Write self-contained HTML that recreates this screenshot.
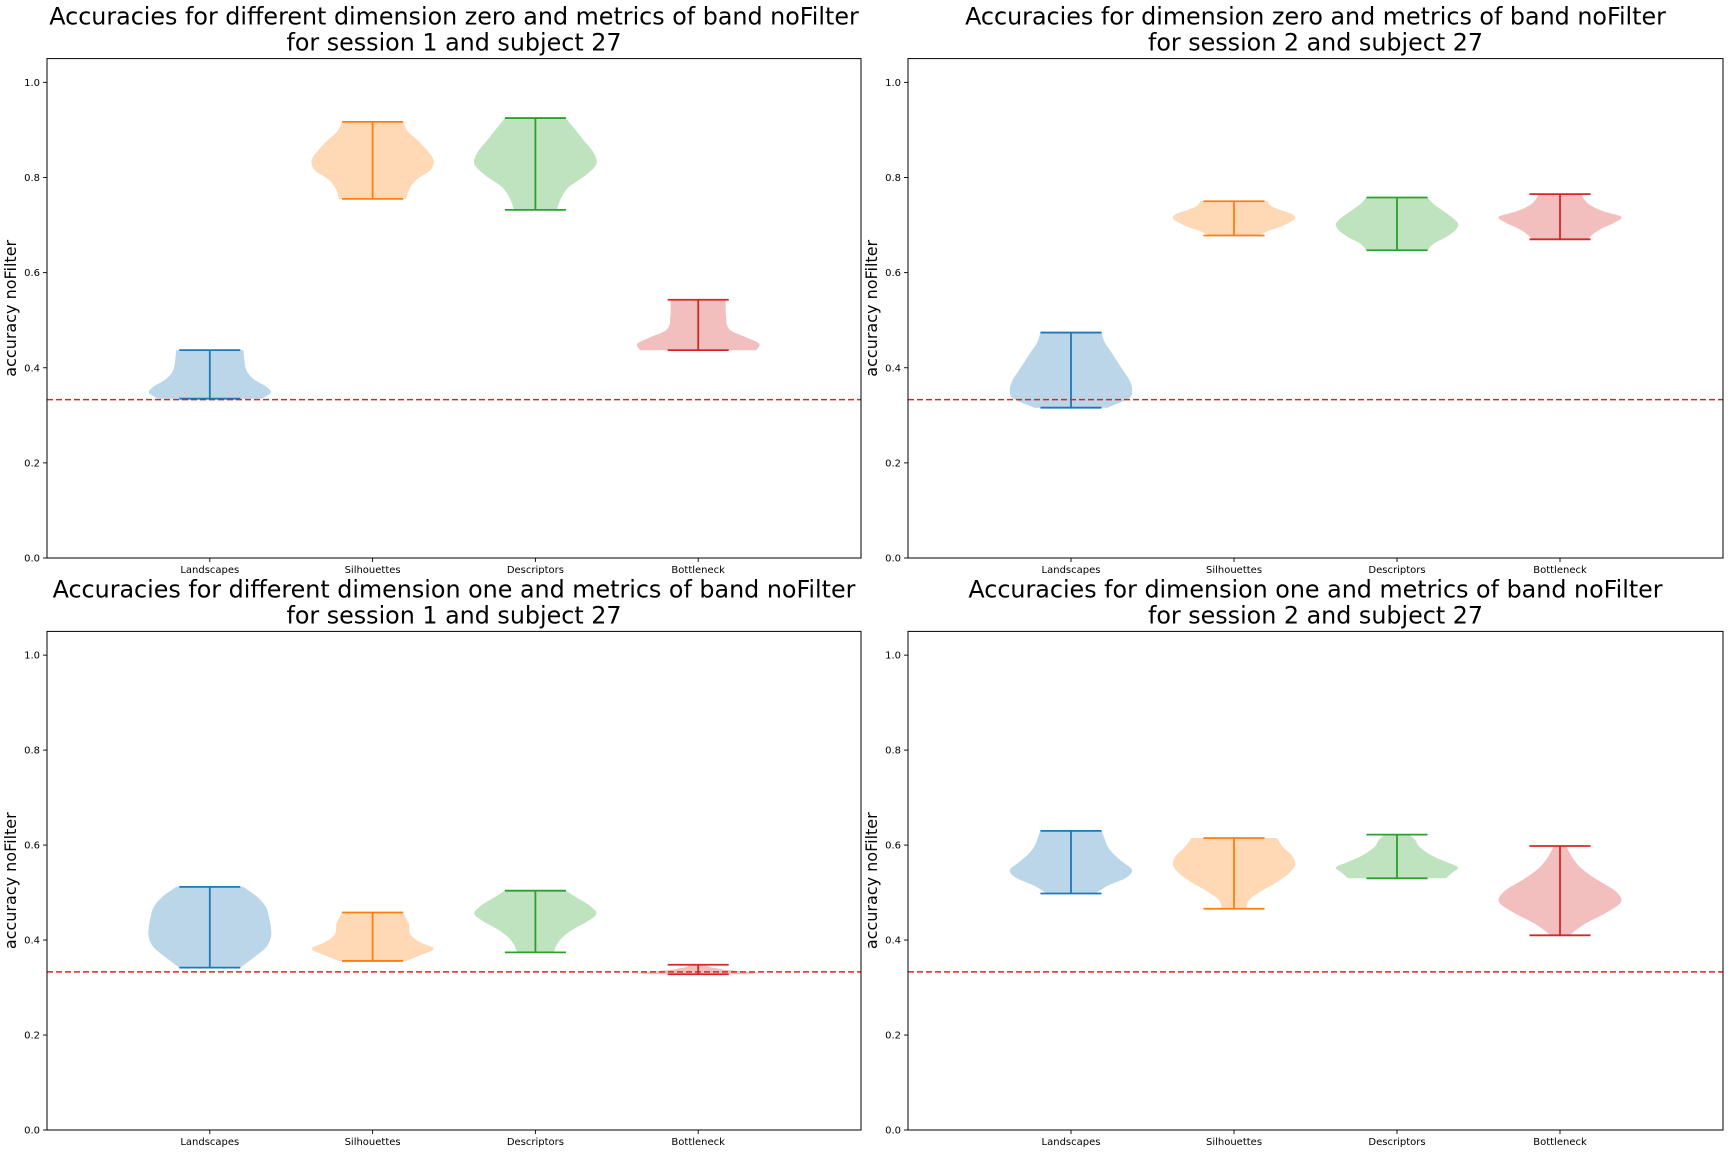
<!DOCTYPE html>
<html><head><meta charset="utf-8">
<style>
html,body{margin:0;padding:0;background:#fff;}
svg{display:block;font-family:"DejaVu Sans","Liberation Sans",sans-serif;}
</style></head>
<body>
<svg id="fig" width="1728" height="1152" viewBox="0 0 1728 1152" xmlns="http://www.w3.org/2000/svg"></svg>
<script>
// ---- data ----
const categories = ["Landscapes","Silhouettes","Descriptors","Bottleneck"];
const yTicks = [0.0,0.2,0.4,0.6,0.8,1.0];
const yTickLabels = ["0.0","0.2","0.4","0.6","0.8","1.0"];
const chanceLevel = 0.333;
const titles = [
  ["Accuracies for different dimension zero and metrics of band noFilter","for session 1 and subject 27"],
  ["Accuracies for dimension zero and metrics of band noFilter","for session 2 and subject 27"],
  ["Accuracies for different dimension one and metrics of band noFilter","for session 1 and subject 27"],
  ["Accuracies for dimension one and metrics of band noFilter","for session 2 and subject 27"]
];
// min / max per violin per panel
const minsP1 = [0.335,0.755,0.732,0.437];
const maxsP1 = [0.437,0.917,0.925,0.543];
const minsP2 = [0.316,0.678,0.647,0.670];
const maxsP2 = [0.474,0.750,0.758,0.765];
const minsP3 = [0.342,0.356,0.374,0.328];
const maxsP3 = [0.512,0.458,0.504,0.348];
const minsP4 = [0.498,0.466,0.530,0.410];
const maxsP4 = [0.630,0.615,0.622,0.598];
// density profiles (relative half-width, bottom to top, evenly spaced between min and max)
const densP1 = [
  [0.85,1.0,0.92,0.75,0.64,0.59,0.57,0.56,0.55],
  [0.55,0.6,0.72,0.95,1.0,0.9,0.75,0.58,0.5],
  [0.35,0.42,0.55,0.82,1.0,0.95,0.8,0.65,0.5],
  [0.95,1.0,0.8,0.55,0.47,0.46,0.45,0.45,0.45]
];
const densP2 = [
  [0.6,0.95,1.0,0.95,0.85,0.75,0.65,0.55,0.5],
  [0.4,0.55,0.75,0.9,1.0,0.95,0.75,0.6,0.55],
  [0.5,0.6,0.8,0.95,1.0,0.9,0.75,0.6,0.5],
  [0.45,0.55,0.7,0.9,1.0,0.7,0.5,0.4,0.35]
];
const densP3 = [
  [0.5,0.72,0.92,1.0,1.0,0.97,0.92,0.78,0.55],
  [0.55,0.8,1.0,0.8,0.65,0.6,0.6,0.55,0.5],
  [0.3,0.35,0.45,0.62,0.85,1.0,0.9,0.7,0.5],
  [0.8,1.0,0.8,0.6,0.4,0.3,0.2,0.15,0.1]
];
const densP4 = [
  [0.4,0.6,0.9,1.0,0.85,0.7,0.6,0.55,0.5],
  [0.2,0.25,0.45,0.7,0.9,1.0,0.95,0.8,0.7],
  [0.8,0.9,1.0,0.8,0.6,0.45,0.35,0.3,0.2],
  [0.15,0.4,0.75,1.0,0.9,0.6,0.35,0.2,0.1]
];
const panelMins = [minsP1,minsP2,minsP3,minsP4];
const panelMaxs = [maxsP1,maxsP2,maxsP3,maxsP4];
const panelDens = [densP1,densP2,densP3,densP4];

// ---- layout ----
const colors = ["#1f77b4","#ff7f0e","#2ca02c","#d62728"];
const panels = [
  {x0:47,x1:861,y0:58.6,y1:558},
  {x0:908,x1:1723,y0:58.6,y1:558},
  {x0:47,x1:861,y0:631.4,y1:1130},
  {x0:908,x1:1723,y0:631.4,y1:1130}
];
const NS="http://www.w3.org/2000/svg";
const svg=document.getElementById('fig');
function mk(tag,attrs,parent){const e=document.createElementNS(NS,tag);for(const k in attrs)e.setAttribute(k,attrs[k]);(parent||svg).appendChild(e);return e;}
function curve(P){
  let s='';
  for(let k=0;k<P.length-1;k++){
    const p0=P[Math.max(0,k-1)],p1=P[k],p2=P[k+1],p3=P[Math.min(P.length-1,k+2)];
    const c1=[p1[0]+(p2[0]-p0[0])/6,p1[1]+(p2[1]-p0[1])/6];
    const c2=[p2[0]-(p3[0]-p1[0])/6,p2[1]-(p3[1]-p1[1])/6];
    s+=` C${c1[0].toFixed(1)},${c1[1].toFixed(1)} ${c2[0].toFixed(1)},${c2[1].toFixed(1)} ${p2[0].toFixed(1)},${p2[1].toFixed(1)}`;
  }
  return s;
}

panels.forEach((p,pi)=>{
  const g=mk('g',{});
  
  
  const xs=v=>p.x0+(v/5)*(p.x1-p.x0);
  const ys=v=>p.y1-(v/1.05)*(p.y1-p.y0);
  const unit=(p.x1-p.x0)/5;
  const cx=(p.x0+p.x1)/2;
  titles[pi].forEach((line,li)=>{
    const t=mk('text',{x:cx,y:p.y0-34+li*26,'text-anchor':'middle','font-size':23.8,fill:'#000'},g);
    
    
    t.textContent=line;
  });
  const yl=mk('text',{x:0,y:0,'text-anchor':'middle','font-size':16,fill:'#000',transform:`translate(${p.x0-31},${(p.y0+p.y1)/2}) rotate(-90)`},g);
  
  
  yl.textContent='accuracy noFilter';
  yTicks.forEach((v,i)=>{
    const y=ys(v);
    mk('line',{x1:p.x0-4,x2:p.x0,y1:y,y2:y,stroke:'#000','stroke-width':0.9},g);
    const t=mk('text',{x:p.x0-7,y:y+3.5,'text-anchor':'end','font-size':10,fill:'#000'},g);
    
    
    t.textContent=yTickLabels[i];
  });
  categories.forEach((c,i)=>{
    const x=xs(i+1);
    mk('line',{x1:x,x2:x,y1:p.y1,y2:p.y1+4,stroke:'#000','stroke-width':0.9},g);
    const t=mk('text',{x:x,y:p.y1+15,'text-anchor':'middle','font-size':10,fill:'#000'},g);
    
    
    t.textContent=c;
  });
  categories.forEach((c,i)=>{
    const mn=panelMins[pi][i], mx=panelMaxs[pi][i], d=panelDens[pi][i];
    const pos=xs(i+1), hw=0.375*unit;
    const n=d.length;
    const pts=d.map((w,k)=>({v:mn+(mx-mn)*k/(n-1),w:w}));
    const Rp=pts.map(q=>[pos+q.w*hw,ys(q.v)]);
    const Lp=pts.slice().reverse().map(q=>[pos-q.w*hw,ys(q.v)]);
    const dstr=`M${Rp[0][0].toFixed(1)},${Rp[0][1].toFixed(1)}${curve(Rp)} L${Lp[0][0].toFixed(1)},${Lp[0][1].toFixed(1)}${curve(Lp)} Z`;
    const body=mk('path',{d:dstr,fill:colors[i],'fill-opacity':0.3,stroke:'none'},g);
    
    
    const cw=hw*0.5;
    const vl=mk('line',{x1:pos,x2:pos,y1:ys(mn),y2:ys(mx),stroke:colors[i],'stroke-width':1.8},g);
    
    
    [mn,mx].forEach(v=>{
      const cap=mk('line',{x1:pos-cw,x2:pos+cw,y1:ys(v),y2:ys(v),stroke:colors[i],'stroke-width':1.8},g);
      
      
    });
  });
  const cl=mk('line',{x1:p.x0,x2:p.x1,y1:ys(chanceLevel),y2:ys(chanceLevel),stroke:'#d62728','stroke-width':1.6,'stroke-dasharray':'6,3'},g);
  
  
  const fr=mk('rect',{x:p.x0,y:p.y0,width:p.x1-p.x0,height:p.y1-p.y0,fill:'none',stroke:'#000','stroke-width':1},g);
  
  
});
</script>
</body></html>
